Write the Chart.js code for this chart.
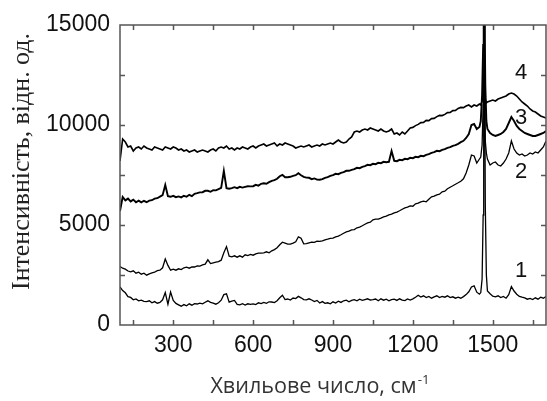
<!DOCTYPE html>
<html><head><meta charset="utf-8">
<script src="https://cdn.jsdelivr.net/npm/chart.js@4/dist/chart.umd.min.js"></script>
<style>html,body{margin:0;padding:0;background:#fff}#wrap{width:547px;height:401px}</style>
</head><body><div id="wrap"><canvas id="c" width="547" height="401"></canvas></div>
<script>
// Wavenumbers (cm-1)
const wavenumbers = [
 100,110,120,130,140,150,160,170,180,190,
 200,210,220,230,240,250,260,270,280,290,
 300,310,320,330,340,350,360,370,380,390,
 400,410,420,430,440,450,460,470,480,490,
 500,510,520,530,540,550,560,570,580,590,
 600,610,620,630,640,650,660,670,680,690,
 700,710,720,730,740,750,760,770,780,790,
 800,810,820,830,840,850,860,870,880,890,
 900,910,920,930,940,950,960,970,980,990,
 1000,1010,1020,1030,1040,1050,1060,1070,1080,1090,
 1100,1110,1120,1130,1140,1150,1160,1170,1180,1190,
 1200,1210,1220,1230,1240,1250,1260,1270,1280,1290,
 1300,1310,1320,1330,1340,1350,1360,1370,1380,1390,
 1400,1410,1420,1430,1440,1450,
 1455,1460,1464,1466,1468,1470,1472,1476,1480,
 1490,1500,1510,1520,1530,1540,1550,1560,1570,1580,1590,
 1600,1610,1620,1630,1640,1650,1660,1670,1680,1690,1700
];
const curve1 = [
 1900,1720,1610,1420,1380,1260,1300,1210,1240,1180,
 1170,1210,1110,1170,1090,1130,1260,1620,1040,1650,
 1230,1080,1010,940,1020,960,1060,990,1070,1050,
 1090,1060,1140,1210,1130,1090,1040,1110,1240,1520,
 1560,1140,1190,1230,1030,1010,1070,1000,1060,1030,
 1060,1020,1110,1070,1130,1080,1160,1150,1120,1210,
 1360,1490,1270,1300,1250,1350,1320,1430,1360,1270,
 1260,1310,1250,1170,1230,1100,1170,1080,1110,1060,
 1160,1100,1190,1130,1210,1240,1160,1230,1270,1210,
 1290,1230,1270,1310,1250,1270,1300,1210,1310,1240,
 1290,1210,1270,1290,1230,1310,1240,1220,1300,1250,
 1310,1390,1490,1400,1460,1370,1430,1340,1410,1460,
 1370,1430,1390,1460,1370,1410,1340,1390,1340,1420,
 1520,1660,1900,1960,1640,1540,
 1620,2300,5500,11000,16500,12000,6000,2500,1700,
 1560,1440,1410,1460,1370,1430,1340,1520,1920,1700,1540,
 1430,1390,1360,1290,1330,1270,1360,1290,1390,1340,1420
];
const curve2 = [
 2920,2840,2790,2700,2660,2710,2590,2640,2540,2590,
 2490,2560,2610,2640,2720,2740,2860,3300,2980,2740,
 2790,2740,2810,2770,2860,2890,2840,2910,2900,2960,
 2940,3010,3040,3260,3070,3110,3140,3170,3240,3610,
 3920,3440,3410,3460,3390,3460,3390,3510,3470,3530,
 3490,3560,3590,3590,3610,3660,3610,3710,3770,3860,
 4010,4140,4090,4040,4040,4090,4160,4410,4340,4060,
 4070,4110,4140,4130,4190,4180,4210,4260,4290,4330,
 4340,4410,4440,4510,4590,4660,4690,4760,4770,4860,
 4890,4960,5040,5110,5140,5260,5290,5290,5340,5410,
 5440,5510,5540,5610,5640,5710,5790,5860,5890,5960,
 5940,6060,6090,6160,6190,6160,6290,6410,6440,6510,
 6540,6660,6690,6810,6890,6960,7040,7110,7190,7310,
 7600,8000,8500,8450,8100,8300,
 8400,9000,11000,12500,13500,11000,9200,8600,8300,
 8000,8100,8150,8000,7950,8100,8300,8600,9200,8800,8600,
 8500,8550,8450,8500,8600,8550,8650,8600,8750,8900,9200
];
const curve3 = [
 5700,6400,6230,6320,6180,6270,6140,6220,6130,6210,
 6140,6220,6240,6320,6340,6420,6490,7000,6440,6410,
 6460,6390,6430,6380,6460,6410,6510,6440,6560,6590,
 6630,6640,6710,6710,6660,6740,6730,6790,6860,7700,
 6840,6810,6840,6890,6840,6910,6870,6910,6940,6930,
 6940,7010,6970,7060,7090,7060,7140,7210,7240,7310,
 7440,7510,7390,7390,7410,7460,7490,7590,7490,7410,
 7370,7360,7290,7330,7270,7260,7290,7360,7390,7460,
 7490,7560,7540,7610,7640,7710,7710,7760,7790,7860,
 7840,7910,7940,8010,7990,8060,8040,8110,8090,8160,
 8140,8160,8700,8210,8190,8260,8240,8310,8290,8360,
 8340,8410,8390,8460,8440,8510,8540,8610,8640,8710,
 8690,8760,8790,8860,8890,8960,8990,9060,9140,9210,
 9350,9550,10000,10050,9800,9900,
 10200,11500,14000,15500,16000,14500,12000,10200,9800,
 9600,9500,9450,9500,9550,9650,9800,10100,10400,10200,9950,
 9800,9700,9600,9550,9500,9450,9450,9500,9550,9600,9700
];
const curve4 = [
 8200,9300,9150,8900,8950,8700,8850,8900,8800,8950,
 8850,8800,8750,8900,8850,8800,8750,8900,8850,8800,
 8900,8850,8750,8800,8700,8750,8650,8700,8750,8650,
 8700,8750,8700,8650,8750,8800,8700,8850,8900,8850,
 8950,8800,8850,8750,8850,8800,8900,8850,8800,8900,
 8950,8850,8950,9000,9050,8950,9000,9050,9100,8950,
 9050,9000,9100,9050,9000,8950,8850,8900,8950,8900,
 8950,9000,8900,8950,9000,8950,9050,9000,9050,9100,
 9050,9150,9250,9150,9100,9150,9300,9400,9650,9700,
 9650,9750,9800,9750,9850,9800,9750,9700,9800,9700,
 9650,9700,9800,9550,9600,9500,9650,9550,9700,9850,
 9880,9970,10030,10120,10130,10230,10220,10320,10330,10420,
 10480,10470,10530,10620,10630,10720,10730,10830,10880,10870,
 10950,11000,10900,11000,10950,11050,
 11000,11200,11600,11900,12000,11700,11300,11100,11150,
 11200,11250,11200,11300,11350,11400,11450,11550,11600,11550,11450,
 11300,11150,11050,10950,10800,10700,10650,10550,10450,10400,10350
];
const seriesNames = ['1','2','3','4'];
const xTickLabels = [300, 600, 900, 1200, 1500];
const yTickLabels = [0, 5000, 10000, 15000];
const xTickMarks = [150, 300, 450, 600, 750, 900, 1050, 1200, 1350, 1500, 1650];
const yTickMarks = [2500, 5000, 7500, 10000, 12500];
const yTitle = 'Інтенсивність, відн. од.';
const xTitle = 'Хвильове число, см';
const xTitleSup = '-1';

const allCurves = [curve1, curve2, curve3, curve4];
const widths = [1.3, 1.3, 1.9, 1.6];
// label anchor positions in data units (x, y) for the curve numbers
const labelAnchors = [[1607, 2725], [1607, 7675], [1607, 10375], [1607, 12625]];

const decor = {
  id: 'decor',
  afterDatasetsDraw(chart) {
    const {ctx, chartArea: a, scales: {x, y}} = chart;
    ctx.save();
    ctx.strokeStyle = '#555';
    ctx.lineWidth = 1.5;
    ctx.strokeRect(a.left, a.top, a.right - a.left, a.bottom - a.top);
    ctx.beginPath();
    xTickMarks.forEach(v => {
      const px = Math.round(x.getPixelForValue(v)) + 0.5;
      ctx.moveTo(px, a.bottom); ctx.lineTo(px, a.bottom - 5);
      ctx.moveTo(px, a.top); ctx.lineTo(px, a.top + 5);
    });
    yTickMarks.forEach(v => {
      const py = Math.round(y.getPixelForValue(v)) + 0.5;
      ctx.moveTo(a.left, py); ctx.lineTo(a.left + 5, py);
      ctx.moveTo(a.right, py); ctx.lineTo(a.right - 5, py);
    });
    ctx.stroke();

    // curve number labels
    ctx.fillStyle = '#111';
    ctx.font = '22px "Liberation Sans", Arial, sans-serif';
    ctx.textAlign = 'center';
    ctx.textBaseline = 'middle';
    seriesNames.forEach((n, i) => {
      ctx.fillText(n, x.getPixelForValue(labelAnchors[i][0]), y.getPixelForValue(labelAnchors[i][1]));
    });

    // y title
    ctx.save();
    let fs = 24;
    ctx.font = fs + 'px "Liberation Serif", "Times New Roman", serif';
    const w = ctx.measureText(yTitle).width;
    fs = fs * 257 / w;
    ctx.font = fs.toFixed(2) + 'px "Liberation Serif", "Times New Roman", serif';
    ctx.translate(29, 161.5);
    ctx.rotate(-Math.PI / 2);
    ctx.textAlign = 'center';
    ctx.textBaseline = 'alphabetic';
    ctx.fillStyle = '#222';
    ctx.fillText(yTitle, 0, 0);
    ctx.restore();

    // x title
    ctx.save();
    ctx.fillStyle = '#333';
    let xs = 17;
    ctx.font = xs + 'px "Open Sans", "DejaVu Sans", sans-serif';
    const mw = ctx.measureText(xTitle).width;
    ctx.font = Math.round(xs * 0.62) + 'px "Open Sans", "DejaVu Sans", sans-serif';
    const sw = ctx.measureText(xTitleSup).width;
    const scale = 220 / (mw + sw + 1);
    xs = xs * scale;
    ctx.font = xs.toFixed(2) + 'px "Open Sans", "DejaVu Sans", sans-serif';
    const mw2 = ctx.measureText(xTitle).width;
    const ssz = xs * 0.62;
    ctx.font = ssz.toFixed(2) + 'px "Open Sans", "DejaVu Sans", sans-serif';
    const sw2 = ctx.measureText(xTitleSup).width;
    const total = mw2 + sw2 + 1;
    const startX = 320 - total / 2;
    ctx.textAlign = 'left';
    ctx.textBaseline = 'alphabetic';
    ctx.font = xs.toFixed(2) + 'px "Open Sans", "DejaVu Sans", sans-serif';
    ctx.fillText(xTitle, startX, 393);
    ctx.font = ssz.toFixed(2) + 'px "Open Sans", "DejaVu Sans", sans-serif';
    ctx.fillText(xTitleSup, startX + mw2 + 1, 393 - xs * 0.4);
    ctx.restore();

    ctx.restore();
  }
};

new Chart(document.getElementById('c'), {
  type: 'line',
  data: {
    datasets: allCurves.map((c, i) => ({
      label: seriesNames[i],
      data: wavenumbers.map((w, j) => ({x: w, y: c[j]})),
      borderColor: '#000',
      borderWidth: widths[i],
      pointRadius: 0,
      tension: 0,
      fill: false
    }))
  },
  options: {
    responsive: false,
    animation: false,
    devicePixelRatio: 1,
    layout: {padding: {top: 25, right: 1, left: 0, bottom: 0}},
    plugins: {legend: {display: false}, tooltip: {enabled: false}},
    scales: {
      x: {
        type: 'linear', min: 100, max: 1700,
        afterBuildTicks: s => { s.ticks = xTickLabels.map(v => ({value: v})); },
        afterFit: s => { s.height = 76; },
        grid: {display: false, drawTicks: false},
        border: {display: false},
        ticks: {font: {family: '"Liberation Sans", Arial, sans-serif', size: 23}, color: '#111', padding: 7, maxRotation: 0, autoSkip: false,
                callback: v => String(v)}
      },
      y: {
        type: 'linear', min: 0, max: 15000,
        afterBuildTicks: s => { s.ticks = yTickLabels.map(v => ({value: v})); },
        afterFit: s => { s.width = 120; },
        grid: {display: false, drawTicks: false},
        border: {display: false},
        ticks: {font: {family: '"Liberation Sans", Arial, sans-serif', size: 23}, color: '#111', padding: 10,
                callback: v => String(v)}
      }
    }
  },
  plugins: [decor]
});
</script>
</body></html>
